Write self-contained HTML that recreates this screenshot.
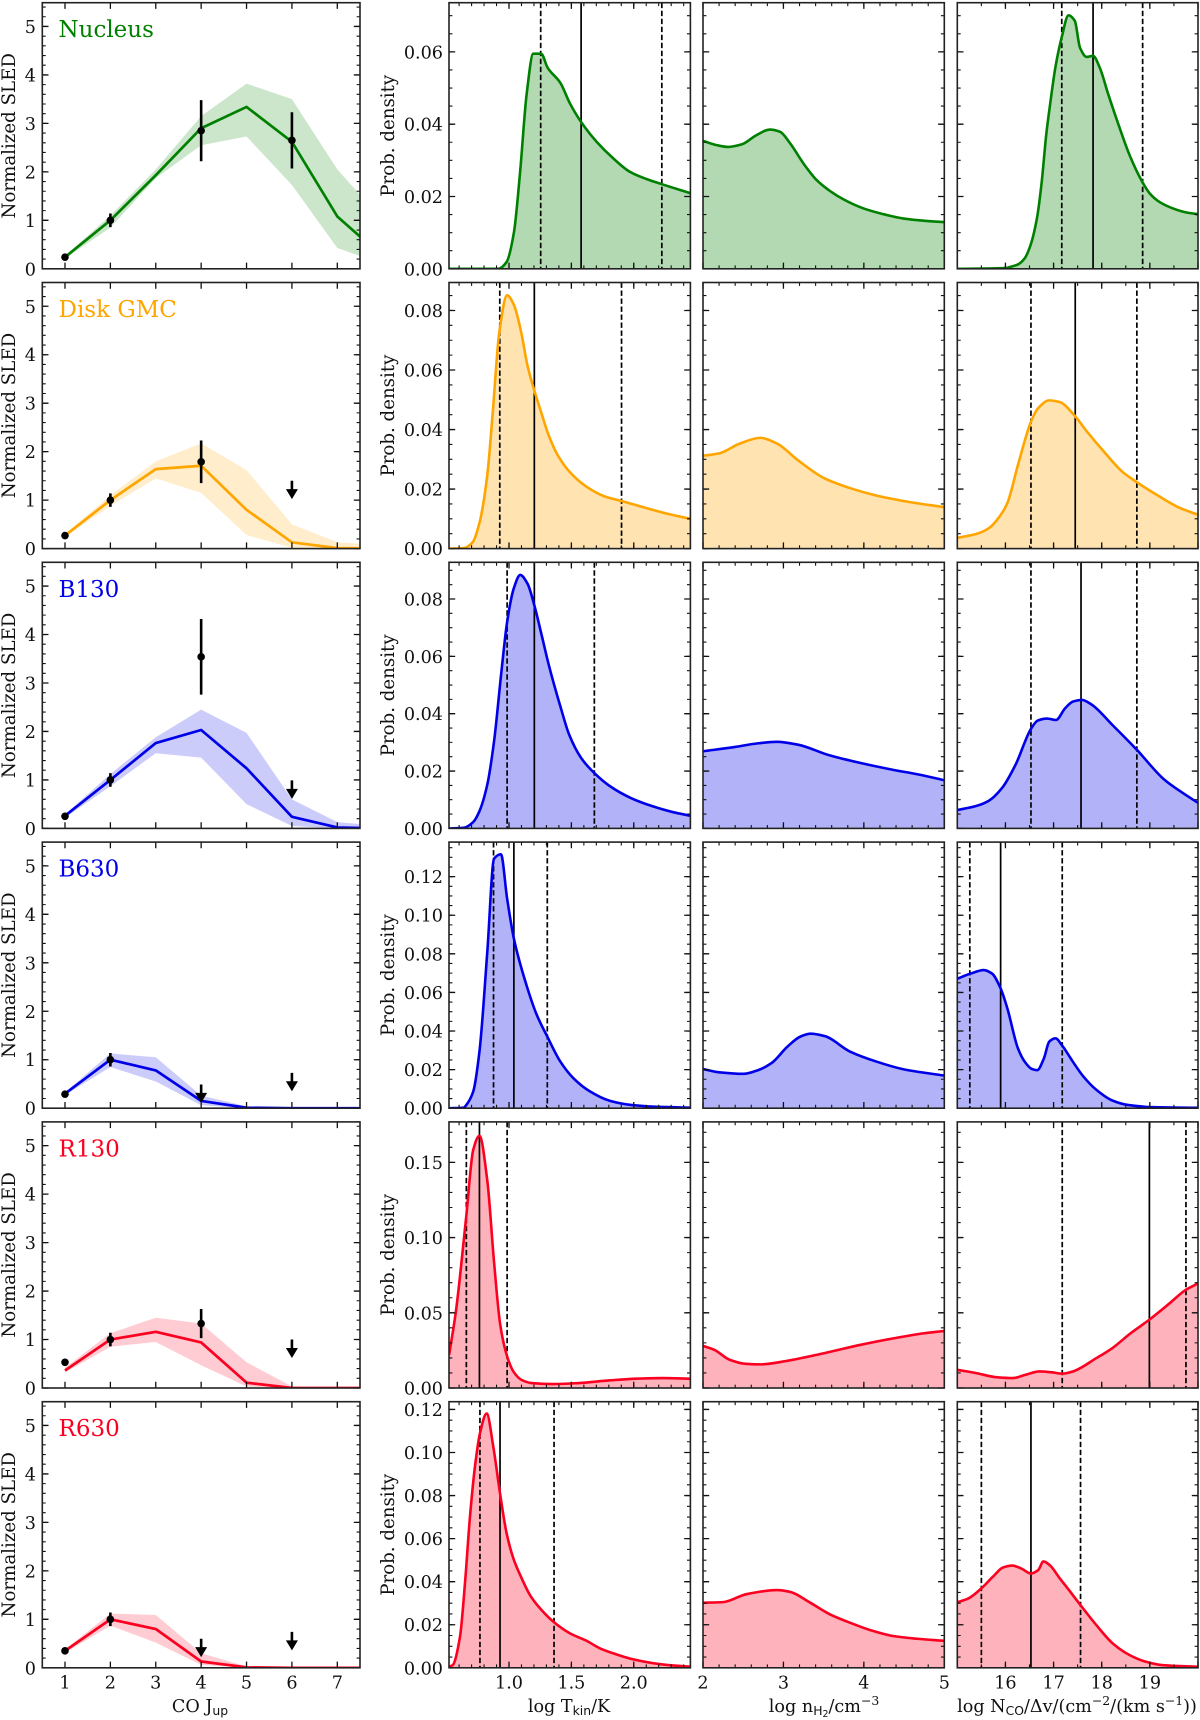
<!DOCTYPE html>
<html lang="en">
<head>
<meta charset="utf-8">
<title>CO SLED fits and posterior distributions</title>
<style>
html,body{margin:0;padding:0;background:#fff;width:1200px;height:1720px;overflow:hidden}
svg{display:block;font-family:"DejaVu Serif","Liberation Serif",serif;filter:blur(.35px)}
text{fill:#111}
</style>
</head>
<body>
<svg id="chart" xmlns="http://www.w3.org/2000/svg" width="1200" height="1720" viewBox="0 0 1200 1720"></svg>
<script>
const regions = ['Nucleus','Disk GMC','B130','B630','R130','R630'];
const regionKeys = ['nucleus','disk-gmc','b130','b630','r130','r630'];
const regionColors = ['#008000','#ffa500','#0000e8','#0000e8','#fb0020','#fb0020'];
const jup = [1,2,3,4,5,6,7,8];

const modelNucleus = [0.24,1.0,1.93,2.9,3.34,2.62,1.08,0.25];
const upperNucleus = [0.27,1.1,2.05,3.15,3.82,3.5,2.05,1.0];
const lowerNucleus = [0.21,0.85,1.87,2.55,2.73,1.73,0.43,0.1];
const modelDisk = [0.27,1.0,1.64,1.71,0.8,0.13,0.01,0];
const upperDisk = [0.3,1.1,1.8,2.17,1.62,0.5,0.13,0.07];
const lowerDisk = [0.24,0.88,1.45,1.15,0.28,0.02,0,0];
const modelB130 = [0.26,1.0,1.76,2.03,1.24,0.24,0.02,0];
const upperB130 = [0.29,1.12,1.88,2.45,1.97,0.6,0.13,0.05];
const lowerB130 = [0.22,0.87,1.55,1.46,0.5,0.05,0,0];
const modelB630 = [0.3,1.0,0.78,0.15,0.01,0,0,0];
const upperB630 = [0.33,1.13,1.05,0.26,0.04,0,0,0];
const lowerB630 = [0.27,0.85,0.55,0.06,0,0,0,0];
const modelR130 = [0.36,1.0,1.16,0.94,0.11,0,0,0];
const upperR130 = [0.42,1.13,1.45,1.33,0.53,0.03,0,0];
const lowerR130 = [0.32,0.85,0.95,0.47,0.03,0,0,0];
const modelR630 = [0.35,1.0,0.8,0.13,0.01,0,0,0];
const upperR630 = [0.38,1.12,1.09,0.3,0.03,0,0,0];
const lowerR630 = [0.31,0.87,0.52,0.06,0,0,0,0];

const obsNucleus = [[1,0.24,0],[2,1,0.14],[4,2.85,0.63],[6,2.65,0.58]];
const obsDisk = [[1,0.27,0],[2,1,0.14],[4,1.79,0.44]];
const obsB130 = [[1,0.25,0],[2,1,0.14],[4,3.54,0.78]];
const obsB630 = [[1,0.29,0],[2,1,0.14]];
const obsR130 = [[1,0.53,0],[2,1,0.14],[4,1.33,0.3]];
const obsR630 = [[1,0.35,0],[2,1,0.14]];

const limitsNucleus = [];
const limitsDisk = [[6,1.4]];
const limitsB130 = [[6,0.99]];
const limitsB630 = [[4,0.49],[6,0.73]];
const limitsR130 = [[6,1.0]];
const limitsR630 = [[4,0.6],[6,0.74]];

const tkinNucleus = [[0.519,0],[0.914,0],[0.981,0.0019],[1.04,0.0102],[1.088,0.0264],[1.142,0.0485],[1.195,0.0595],[1.257,0.0595],[1.31,0.0556],[1.412,0.0514],[1.489,0.0457],[1.578,0.0406],[1.703,0.0351],[1.837,0.0305],[1.97,0.0268],[2.104,0.0248],[2.225,0.0234],[2.455,0.0209]];
const densNucleus = [[2,0.0354],[2.17,0.0342],[2.315,0.0337],[2.48,0.0344],[2.667,0.037],[2.83,0.0385],[2.957,0.0379],[3.083,0.0347],[3.25,0.0291],[3.415,0.0245],[3.58,0.0215],[3.747,0.0192],[3.996,0.0167],[4.245,0.0151],[4.494,0.0139],[4.743,0.0133],[5,0.0129]];
const colNucleus = [[15,0],[16,0.0002],[16.12,0.0006],[16.26,0.0012],[16.4,0.0029],[16.52,0.0065],[16.66,0.0144],[16.75,0.0236],[16.85,0.0374],[16.93,0.0457],[17.04,0.0559],[17.17,0.0641],[17.31,0.0701],[17.44,0.0686],[17.55,0.0611],[17.69,0.0586],[17.82,0.0589],[17.96,0.0556],[18.13,0.0485],[18.34,0.0402],[18.58,0.0314],[18.84,0.0241],[19,0.0208],[19.2,0.0185],[19.48,0.0167],[19.75,0.0156],[20,0.0151]];

const tkinDisk = [[0.519,0],[0.637,0.0002],[0.708,0.0021],[0.763,0.0086],[0.826,0.0247],[0.868,0.0448],[0.922,0.0726],[0.985,0.0851],[1.039,0.0819],[1.098,0.0726],[1.148,0.0615],[1.203,0.0531],[1.257,0.0459],[1.316,0.0383],[1.39,0.0314],[1.496,0.0253],[1.621,0.0208],[1.768,0.0175],[1.902,0.016],[2.103,0.0136],[2.27,0.0117],[2.454,0.01]];
const densDisk = [[2,0.0312],[2.2,0.032],[2.46,0.0353],[2.71,0.0372],[2.92,0.0353],[3.18,0.0297],[3.51,0.0236],[3.83,0.0203],[4.16,0.0178],[4.49,0.016],[5,0.0139]];
const colDisk = [[15,0.0036],[15.39,0.0049],[15.66,0.0069],[15.88,0.0108],[16.04,0.0153],[16.26,0.0281],[16.53,0.0426],[16.67,0.047],[16.91,0.0498],[17.13,0.0492],[17.43,0.0448],[17.67,0.0398],[18.05,0.0325],[18.43,0.0258],[18.73,0.0223],[19.2,0.0175],[19.63,0.0136],[20,0.0114]];

const tkinB130 = [[0.519,0],[0.637,0.0002],[0.713,0.0022],[0.763,0.006],[0.826,0.0153],[0.88,0.0303],[0.939,0.0546],[0.985,0.072],[1.039,0.0838],[1.09,0.0884],[1.149,0.0853],[1.203,0.0778],[1.265,0.0668],[1.316,0.0575],[1.412,0.0425],[1.483,0.0326],[1.579,0.0245],[1.684,0.0193],[1.81,0.0147],[1.977,0.0106],[2.145,0.0078],[2.312,0.0057],[2.454,0.0044]];
const densB130 = [[2,0.0269],[2.4,0.0284],[2.69,0.0297],[2.92,0.0302],[3.18,0.0292],[3.57,0.0255],[3.96,0.0228],[4.35,0.0205],[4.68,0.0188],[5,0.0168]];
const colB130 = [[15,0.0064],[15.39,0.0078],[15.66,0.0097],[15.93,0.0141],[16.21,0.0222],[16.53,0.0347],[16.67,0.0376],[16.86,0.0383],[17.05,0.0378],[17.24,0.0419],[17.4,0.0442],[17.59,0.0448],[17.78,0.0433],[18.22,0.0361],[18.73,0.0274],[19.3,0.017],[19.68,0.0124],[20,0.0089]];

const tkinB630 = [[0.519,0],[0.637,0.0003],[0.658,0.0017],[0.713,0.0086],[0.763,0.0293],[0.826,0.081],[0.88,0.1293],[0.935,0.1316],[0.985,0.1086],[1.039,0.0879],[1.14,0.0638],[1.223,0.0483],[1.307,0.0371],[1.412,0.0241],[1.517,0.0155],[1.642,0.009],[1.81,0.0038],[1.977,0.0017],[2.187,0.0007],[2.454,0.0003]];
const densB630 = [[2,0.0203],[2.2,0.0186],[2.5,0.0178],[2.69,0.0198],[2.85,0.0233],[3.05,0.0319],[3.21,0.0371],[3.34,0.0386],[3.51,0.0374],[3.83,0.0293],[4.16,0.0241],[4.49,0.0202],[5,0.0169]];
const colB630 = [[15,0.0671],[15.28,0.0698],[15.55,0.0716],[15.72,0.0698],[15.9,0.0621],[16.04,0.0517],[16.26,0.031],[16.4,0.0241],[16.55,0.0203],[16.66,0.0197],[16.8,0.0259],[16.91,0.0345],[17.04,0.0362],[17.18,0.0324],[17.4,0.0241],[17.62,0.0164],[17.89,0.0095],[18.22,0.004],[18.54,0.0017],[19.09,0.0005],[20,0.0002]];

const tkinR130 = [[0.52,0.0221],[0.574,0.0507],[0.658,0.1147],[0.713,0.1582],[0.763,0.1677],[0.826,0.1379],[0.88,0.0838],[0.93,0.0419],[0.985,0.021],[1.035,0.011],[1.098,0.0055],[1.18,0.0033],[1.35,0.0026],[1.56,0.0033],[1.81,0.0051],[2.02,0.0062],[2.23,0.0066],[2.454,0.0062]];
const densR130 = [[2,0.028],[2.14,0.0254],[2.33,0.0188],[2.53,0.0161],[2.72,0.0157],[3.05,0.0181],[3.51,0.0232],[3.96,0.0287],[4.42,0.0335],[4.75,0.0364],[5,0.0379]];
const colR130 = [[15,0.0121],[15.39,0.0099],[15.83,0.0071],[16.15,0.0066],[16.42,0.0088],[16.7,0.011],[16.97,0.0104],[17.18,0.0095],[17.4,0.011],[17.89,0.0199],[18.22,0.0265],[18.6,0.0364],[18.98,0.0452],[19.41,0.0563],[19.74,0.0651],[20,0.0695]];

const tkinR630 = [[0.519,0.0005],[0.548,0.0012],[0.607,0.0144],[0.647,0.0392],[0.687,0.0701],[0.727,0.0934],[0.767,0.1089],[0.821,0.1181],[0.874,0.1027],[0.928,0.081],[0.981,0.0624],[1.035,0.0508],[1.102,0.0415],[1.168,0.0338],[1.249,0.0276],[1.356,0.0214],[1.489,0.016],[1.623,0.0125],[1.73,0.009],[1.837,0.0067],[1.997,0.0039],[2.238,0.0015],[2.455,0.0005]];
const densR630 = [[2,0.0302],[2.25,0.0305],[2.54,0.0342],[2.92,0.0361],[3.08,0.0353],[3.33,0.0303],[3.58,0.0248],[3.83,0.0209],[4.08,0.0175],[4.37,0.0147],[4.66,0.0135],[5,0.0125]];
const colR630 = [[15,0.0304],[15.23,0.0322],[15.5,0.0369],[15.74,0.0423],[15.95,0.0466],[16.14,0.0475],[16.33,0.0461],[16.53,0.0438],[16.68,0.0454],[16.79,0.0494],[16.92,0.0477],[17.13,0.0415],[17.33,0.0358],[17.56,0.0291],[17.89,0.0198],[18.23,0.0113],[18.58,0.0059],[18.92,0.0028],[19.27,0.0012],[20,0.0005]];

const quantTkin = [[1.254,1.578,2.225],[0.926,1.203,1.902],[0.985,1.203,1.684],[0.876,1.039,1.307],[0.658,0.763,0.985],[0.767,0.928,1.361]];
const quantCol = [[17.17,17.82,18.85],[16.53,17.45,18.73],[16.53,17.57,18.73],[15.26,15.9,17.18],[17.18,18.99,19.75],[15.5,16.53,17.56]];

const pdfYMax = [0.0736,0.0894,0.0928,0.1379,0.1769,0.1236];
const pdfYMajor = [0.02,0.02,0.02,0.02,0.05,0.02];
const pdfYMinor = [0.005,0.005,0.005,0.005,0.01,0.005];

const sledXTicks = [1,2,3,4,5,6,7];
const sledYTicks = [0,1,2,3,4,5];
const tkinXTicks = ['1.0','1.5','2.0'];
const densXTicks = ['2','3','4','5'];
const colXTicks = ['16','17','18','19'];

const modelSeries = [modelNucleus,modelDisk,modelB130,modelB630,modelR130,modelR630];
const upperSeries = [upperNucleus,upperDisk,upperB130,upperB630,upperR130,upperR630];
const lowerSeries = [lowerNucleus,lowerDisk,lowerB130,lowerB630,lowerR130,lowerR630];
const obsSeries = [obsNucleus,obsDisk,obsB130,obsB630,obsR130,obsR630];
const limitSeries = [limitsNucleus,limitsDisk,limitsB130,limitsB630,limitsR130,limitsR630];
const tkinSeries = [tkinNucleus,tkinDisk,tkinB130,tkinB630,tkinR130,tkinR630];
const densSeries = [densNucleus,densDisk,densB130,densB630,densR130,densR630];
const colSeries = [colNucleus,colDisk,colB130,colB630,colR130,colR630];

const NS = 'http://www.w3.org/2000/svg';
const svg = document.getElementById('chart');
const colBox = [[42.3,360],[449,690.4],[703,944.3],[957.3,1198]];
const rowStart = 2.7, rowStep = 279.8, rowH = 266.1;
const inkDark = '#111';
const TICK_FONT = 17.6, LABEL_FONT = 18.2;

function make(tag, attrs, parent, text) {
  const el = document.createElementNS(NS, tag);
  for (const k in attrs) el.setAttribute(k, attrs[k]);
  if (text !== undefined) el.textContent = text;
  parent.appendChild(el);
  return el;
}
function linScale(d0, d1, r0, r1) { return v => r0 + (v - d0) * (r1 - r0) / (d1 - d0); }

/* Monotone cubic path through screen points, so the density curves read as smooth lines. */
function monotonePath(p) {
  const n = p.length, h = [], s = [], m = [];
  for (let k = 0; k < n - 1; k++) {
    h[k] = p[k+1][0] - p[k][0];
    s[k] = (p[k+1][1] - p[k][1]) / h[k];
  }
  m[0] = s[0];
  m[n-1] = s[n-2];
  for (let k = 1; k < n - 1; k++) {
    if (s[k-1] * s[k] <= 0) { m[k] = 0; continue; }
    const w1 = 2*h[k] + h[k-1], w2 = h[k] + 2*h[k-1];
    m[k] = (w1 + w2) / (w1/s[k-1] + w2/s[k]);
  }
  let d = `${p[0][0]} ${p[0][1]}`;
  for (let k = 0; k < n - 1; k++) {
    const t = h[k] / 3;
    d += `C${p[k][0]+t} ${p[k][1]+m[k]*t} ${p[k+1][0]-t} ${p[k+1][1]-m[k+1]*t} ${p[k+1][0]} ${p[k+1][1]}`;
  }
  return d;
}

function drawTicks(g, sx, sy, xlim, ylim, x0, x1, y0, y1, xMajor, xMinor, yMajor, yMinor) {
  const maj = 6.2, minr = 3.4;
  let dMaj = '', dMin = '';
  const range = (lo, hi, step) => { const a = []; for (let k = Math.ceil(lo/step - 1e-6); k <= Math.floor(hi/step + 1e-6); k++) a.push(k*step); return a; };
  range(xlim[0], xlim[1], xMajor).forEach(v => { const x = sx(v); dMaj += `M${x} ${y1}V${y1-maj}M${x} ${y0}V${y0+maj}`; });
  if (xMinor) range(xlim[0], xlim[1], xMinor).forEach(v => { const x = sx(v); dMin += `M${x} ${y1}V${y1-minr}M${x} ${y0}V${y0+minr}`; });
  range(ylim[0], ylim[1], yMajor).forEach(v => { const y = sy(v); dMaj += `M${x0} ${y}H${x0+maj}M${x1} ${y}H${x1-maj}`; });
  range(ylim[0], ylim[1], yMinor).forEach(v => { const y = sy(v); dMin += `M${x0} ${y}H${x0+minr}M${x1} ${y}H${x1-minr}`; });
  const tMaj = make('path', {d: dMaj, stroke: inkDark, 'stroke-width': 1.3, fill: 'none'}, g);
  
  
  const tMin = make('path', {d: dMin, stroke: inkDark, 'stroke-width': 1.1, fill: 'none'}, g);
  
  
}
function drawFrame(g, x0, x1, y0, y1) {
  const fr = make('rect', {x: x0, y: y0, width: x1-x0, height: y1-y0, fill: 'none', stroke: '#222', 'stroke-width': 1.6}, g);
  
  
}
function makeClip(id, x0, x1, y0, y1) {
  const cp = make('clipPath', {id: id}, svg);
  make('rect', {x: x0, y: y0, width: x1-x0, height: y1-y0}, cp);
}
function yTickLabel(g, x, y, s) {
  const t = make('text', {x: x, y: y + 6.5, 'text-anchor': 'end', 'font-size': TICK_FONT}, g, s);
  
  
}
function xTickLabel(g, x, y, s) {
  const t = make('text', {x: x, y: y, 'text-anchor': 'middle', 'font-size': TICK_FONT}, g, s);
  
  
}
function yAxisTitle(g, x, cy, s) {
  const t = make('text', {x: x, y: cy, 'text-anchor': 'middle', 'font-size': LABEL_FONT, transform: `rotate(-90 ${x} ${cy})`}, g, s);
  
  
}

function drawSled(i) {
  const y0 = rowStart + i*rowStep, y1 = y0 + rowH;
  const [x0, x1] = colBox[0];
  const sx = linScale(0.5, 7.5, x0, x1), sy = linScale(0, 5.49, y1, y0);
  const color = regionColors[i];
  const clipId = 'clip-sled-' + i;
  makeClip(clipId, x0, x1, y0, y1);
  const g = make('g', {}, svg);
  
  
  const inner = make('g', {'clip-path': `url(#${clipId})`}, g);

  const up = upperSeries[i].map((v, k) => sx(jup[k]) + ',' + sy(v));
  const lo = lowerSeries[i].map((v, k) => sx(jup[k]) + ',' + sy(v)).reverse();
  const band = make('polygon', {points: up.concat(lo).join(' '), fill: color, 'fill-opacity': 0.2}, inner);
  
  

  const line = make('polyline', {points: modelSeries[i].map((v, k) => sx(jup[k]) + ',' + sy(v)).join(' '), fill: 'none', stroke: color, 'stroke-width': 2.7, 'stroke-linejoin': 'round'}, inner);
  
  

  obsSeries[i].forEach(o => {
    if (o[2] > 0) {
      const eb = make('line', {x1: sx(o[0]), x2: sx(o[0]), y1: sy(o[1]-o[2]), y2: sy(o[1]+o[2]), stroke: '#000', 'stroke-width': 2.6}, inner);
      
      
    }
    const pt = make('circle', {cx: sx(o[0]), cy: sy(o[1]), r: 3.8, fill: '#000'}, inner);
    
    
  });
  limitSeries[i].forEach(l => {
    const ax = sx(l[0]), top = sy(l[1]), tip = sy(l[1] - 0.38);
    const shaft = make('line', {x1: ax, x2: ax, y1: top, y2: tip - 4, stroke: '#000', 'stroke-width': 2.6}, inner);
    
    
    const head = make('polygon', {points: `${ax-6},${tip-10} ${ax+6},${tip-10} ${ax},${tip}`, fill: '#000'}, inner);
    
    
  });

  drawTicks(g, sx, sy, [0.5,7.5], [0,5.49], x0, x1, y0, y1, 1, 0, 1, 0.2);
  drawFrame(g, x0, x1, y0, y1);
  sledYTicks.forEach(v => yTickLabel(g, 36, sy(v), String(v)));
  if (i === 5) sledXTicks.forEach(v => xTickLabel(g, sx(v), y1 + 20.5, String(v)));
  yAxisTitle(g, 15, (y0+y1)/2, 'Normalized SLED');
  const title = make('text', {x: 58.5, y: y0 + 34.5, 'font-size': 23, style: 'fill:' + color}, g, regions[i]);
  
  
}

function drawPdf(i, col, series, xlim, xMajor, xMinor, quant, key) {
  const y0 = rowStart + i*rowStep, y1 = y0 + rowH;
  const [x0, x1] = colBox[col];
  const ylim = [0, pdfYMax[i]];
  const sx = linScale(xlim[0], xlim[1], x0, x1), sy = linScale(0, ylim[1], y1, y0);
  const color = regionColors[i];
  const clipId = 'clip-' + key + '-' + i;
  makeClip(clipId, x0, x1, y0, y1);
  const g = make('g', {}, svg);
  
  
  const inner = make('g', {'clip-path': `url(#${clipId})`}, g);

  const screen = series.map(p => [sx(p[0]), sy(p[1])]);
  const curveD = monotonePath(screen);
  const first = series[0], last = series[series.length-1];
  const areaD = `M${sx(first[0])} ${sy(0)}L${curveD}L${sx(last[0])} ${sy(0)}Z`;
  const area = make('path', {d: areaD, fill: color, 'fill-opacity': 0.3}, inner);
  
  

  if (quant) quant.forEach((q, k) => {
    const attrs = {x1: sx(q), x2: sx(q), y1: y0, y2: y1, stroke: '#000', 'stroke-width': 1.7};
    if (k !== 1) attrs['stroke-dasharray'] = '5.4 2.6';
    const vl = make('line', attrs, inner);
    
    
  });

  const curve = make('path', {d: 'M' + curveD, fill: 'none', stroke: color, 'stroke-width': 2.6, 'stroke-linejoin': 'round'}, inner);
  
  

  drawTicks(g, sx, sy, xlim, ylim, x0, x1, y0, y1, xMajor, xMinor, pdfYMajor[i], pdfYMinor[i]);
  drawFrame(g, x0, x1, y0, y1);
  if (col === 1) {
    const n = Math.floor(ylim[1] / pdfYMajor[i] + 1e-6);
    for (let k = 0; k <= n; k++) {
      const v = k * pdfYMajor[i];
      yTickLabel(g, 443, sy(v), v.toFixed(2));
    }
    yAxisTitle(g, 394, (y0+y1)/2, 'Prob. density');
  }
  return {g, sx, y1};
}

function axisLabel(cx, y, segments, name) {
  const t = make('text', {x: cx, y: y, 'text-anchor': 'middle', 'font-size': 17.6}, svg);
  
  
  let cur = 0;
  segments.forEach(s => {
    const dy = s.shift - cur;
    cur = s.shift;
    const attrs = {dy: dy, 'font-size': s.size};
    if (s.sans) attrs['font-family'] = '"DejaVu Sans","Liberation Sans",sans-serif';
    make('tspan', attrs, t, s.text);
  });
}

for (let i = 0; i < 6; i++) {
  drawSled(i);
  const a = drawPdf(i, 1, tkinSeries[i], [0.519,2.454], 0.5, 0.1, quantTkin[i], 'tkin');
  const b = drawPdf(i, 2, densSeries[i], [2,5], 1, 0.2, null, 'density');
  const c = drawPdf(i, 3, colSeries[i], [15,20], 1, 0.5, quantCol[i], 'column');
  if (i === 5) {
    tkinXTicks.forEach(s => xTickLabel(a.g, a.sx(parseFloat(s)), a.y1 + 20.5, s));
    densXTicks.forEach(s => xTickLabel(b.g, b.sx(parseFloat(s)), b.y1 + 20.5, s));
    colXTicks.forEach(s => xTickLabel(c.g, c.sx(parseFloat(s)), c.y1 + 20.5, s));
  }
}

axisLabel(200, 1712, [
  {text: 'CO J', shift: 0, size: 17.6},
  {text: 'up', shift: 3, size: 12.4, sans: true}
], 'x-axis-title-co-jup');
axisLabel(569, 1712, [
  {text: 'log T', shift: 0, size: 17.6},
  {text: 'kin', shift: 3, size: 12.4, sans: true},
  {text: '/K', shift: 0, size: 17.6}
], 'x-axis-title-tkin');
axisLabel(824, 1712, [
  {text: 'log n', shift: 0, size: 17.6},
  {text: 'H', shift: 3, size: 12.4, sans: true},
  {text: '2', shift: 5, size: 9.4, sans: true},
  {text: '/cm', shift: 0, size: 17.6},
  {text: '\u22123', shift: -7, size: 12.4}
], 'x-axis-title-density');
axisLabel(1077, 1712, [
  {text: 'log N', shift: 0, size: 17.6},
  {text: 'CO', shift: 3, size: 12.4, sans: true},
  {text: '/\u0394v/(cm', shift: 0, size: 17.6},
  {text: '\u22122', shift: -7, size: 12.4},
  {text: '/(km s', shift: 0, size: 17.6},
  {text: '\u22121', shift: -7, size: 12.4},
  {text: '))', shift: 0, size: 17.6}
], 'x-axis-title-column');
</script>
</body>
</html>
